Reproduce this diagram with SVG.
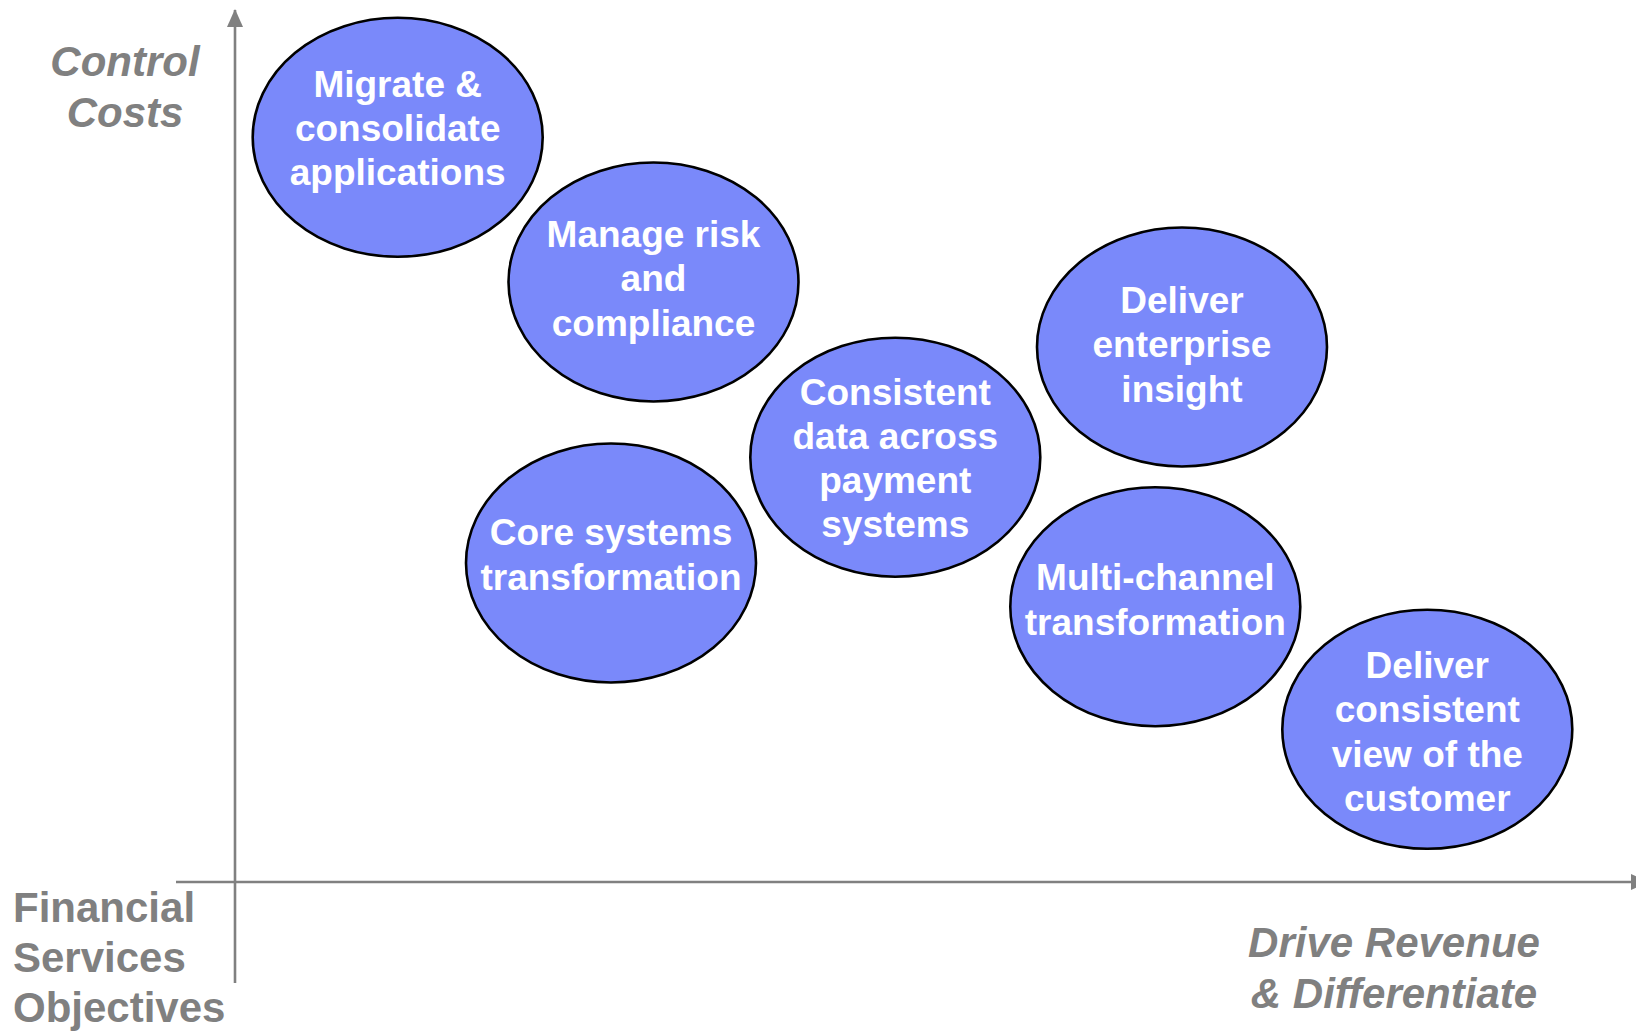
<svg xmlns="http://www.w3.org/2000/svg" width="1636" height="1032" viewBox="0 0 1636 1032">
<style>
.bg{fill:#ffffff}
.axis{stroke:#808080;stroke-width:2.6;fill:none}
.bub{fill:#7A89FA;stroke:#000000;stroke-width:2.6}
.bt{font-family:"Liberation Sans",Arial,sans-serif;font-weight:bold;font-size:37px;fill:#ffffff;text-anchor:middle}
.ax{font-family:"Liberation Sans",Arial,sans-serif;font-weight:bold;font-style:italic;font-size:42px;fill:#808080;text-anchor:middle}
.ttl{font-family:"Liberation Sans",Arial,sans-serif;font-weight:bold;font-size:42px;fill:#808080}
</style>
<defs>
<marker id="arr" viewBox="0 0 18 16" refX="17" refY="8" markerWidth="18" markerHeight="16" markerUnits="userSpaceOnUse" orient="auto">
<path d="M0,0 L18,8 L0,16 Z" fill="#808080"/>
</marker>
</defs>
<rect class="bg" x="0" y="0" width="1636" height="1032"/>
<g id="connectors">
<line class="axis" x1="235" y1="983" x2="235" y2="10" marker-end="url(#arr)"/>
<line class="axis" x1="176" y1="882" x2="1648" y2="882" marker-end="url(#arr)"/>
</g>
<g id="labels">
<text class="ax" x="125" y="76">Control</text>
<text class="ax" x="125" y="127">Costs</text>
<text class="ax" x="1394" y="957">Drive Revenue</text>
<text class="ax" x="1394" y="1008">&amp; Differentiate</text>
<text class="ttl" x="13" y="922">Financial</text>
<text class="ttl" x="13" y="972">Services</text>
<text class="ttl" x="13" y="1022">Objectives</text>
</g>
<g id="node-migrate">
<ellipse class="bub" cx="397.7" cy="137.3" rx="145" ry="119.5"/>
<text class="bt" x="397.7" y="96.5">Migrate &amp;</text>
<text class="bt" x="397.7" y="140.5">consolidate</text>
<text class="bt" x="397.7" y="184.5">applications</text>
</g>
<g id="node-manage">
<ellipse class="bub" cx="653.5" cy="282" rx="145" ry="119.5"/>
<text class="bt" x="653.5" y="246.5">Manage risk</text>
<text class="bt" x="653.5" y="291">and</text>
<text class="bt" x="653.5" y="335.5">compliance</text>
</g>
<g id="node-core">
<ellipse class="bub" cx="611" cy="563" rx="145" ry="119.5"/>
<text class="bt" x="611" y="545">Core systems</text>
<text class="bt" x="611" y="590">transformation</text>
</g>
<g id="node-consistent">
<ellipse class="bub" cx="895.3" cy="457.2" rx="145" ry="119.5"/>
<text class="bt" x="895.3" y="404.5">Consistent</text>
<text class="bt" x="895.3" y="449">data across</text>
<text class="bt" x="895.3" y="493">payment</text>
<text class="bt" x="895.3" y="537">systems</text>
</g>
<g id="node-enterprise">
<ellipse class="bub" cx="1182" cy="347" rx="145" ry="119.5"/>
<text class="bt" x="1182" y="312.5">Deliver</text>
<text class="bt" x="1182" y="357">enterprise</text>
<text class="bt" x="1182" y="401.5">insight</text>
</g>
<g id="node-multichannel">
<ellipse class="bub" cx="1155.3" cy="606.7" rx="145" ry="119.5"/>
<text class="bt" x="1155.3" y="589.5">Multi-channel</text>
<text class="bt" x="1155.3" y="634.5">transformation</text>
</g>
<g id="node-customer">
<ellipse class="bub" cx="1427.3" cy="729.3" rx="145" ry="119.5"/>
<text class="bt" x="1427.3" y="677.5">Deliver</text>
<text class="bt" x="1427.3" y="722">consistent</text>
<text class="bt" x="1427.3" y="766.5">view of the</text>
<text class="bt" x="1427.3" y="811">customer</text>
</g>
</svg>
